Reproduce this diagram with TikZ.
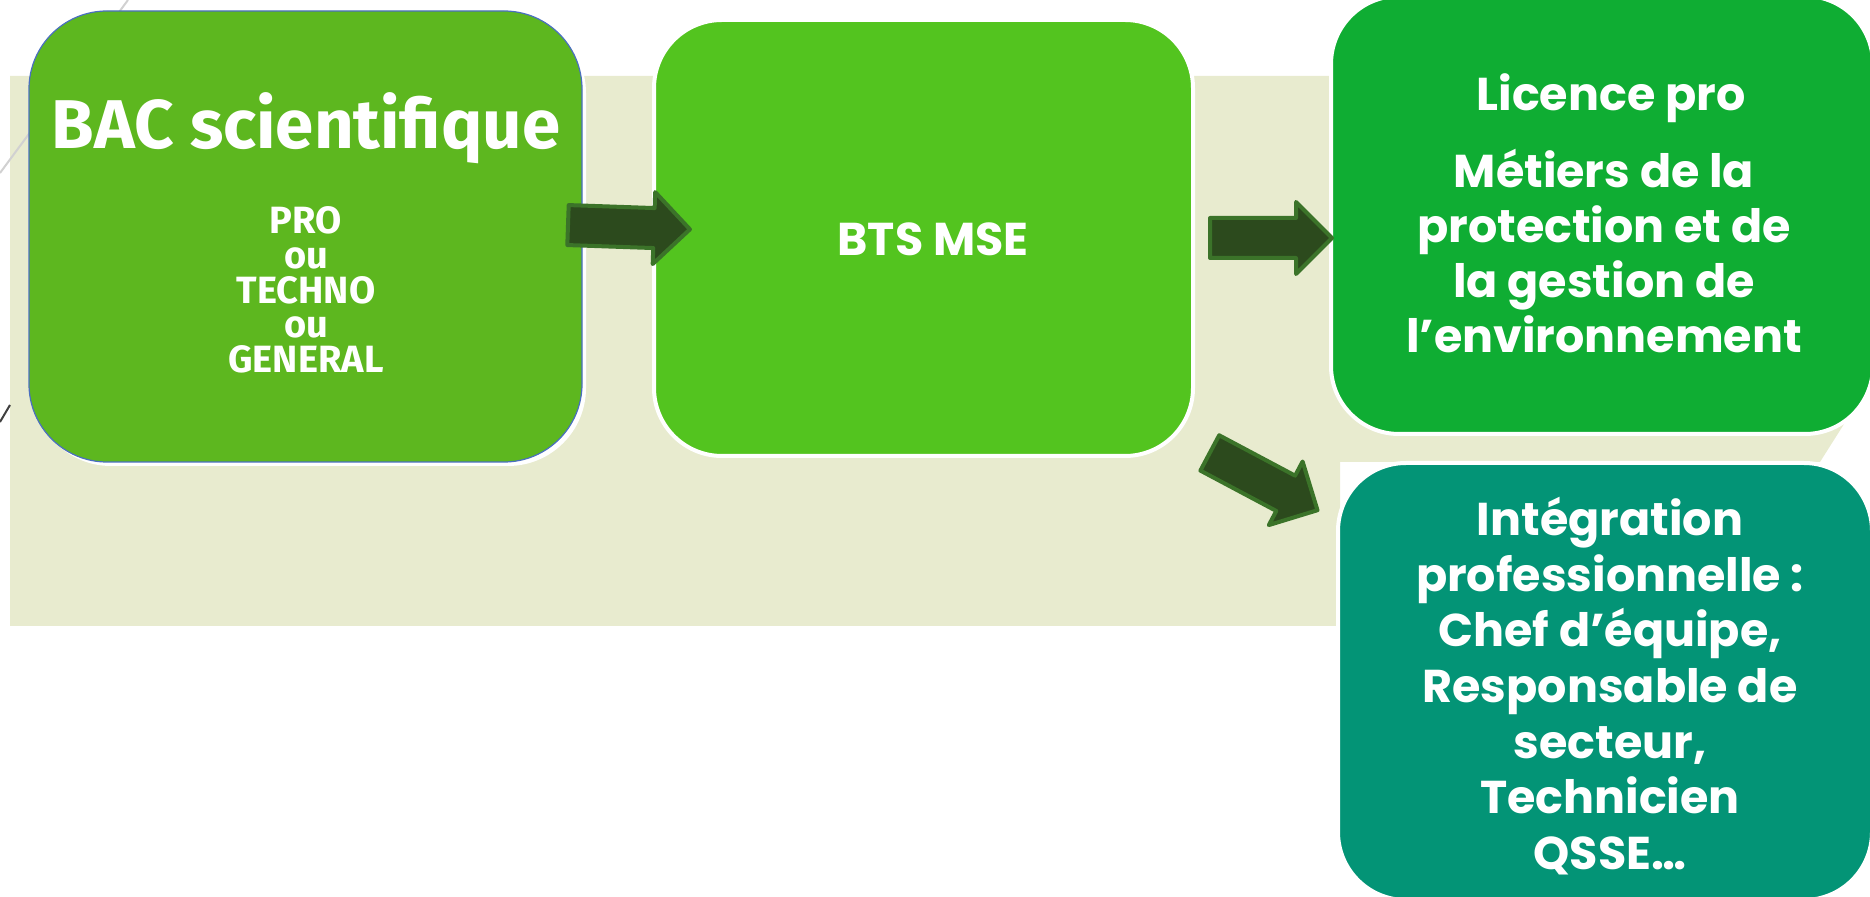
\documentclass[tikz,border=0pt]{standalone}
\usepackage{fontspec}
\setmainfont{Poppins}
\newfontfamily\gillfont{Fira Sans}
\usetikzlibrary{shapes.arrows,shadows}

\definecolor{bgbeige}{HTML}{E8EBCF}
\definecolor{bacgreen}{HTML}{5DB71F}
\definecolor{btsgreen}{HTML}{53C41F}
\definecolor{licgreen}{HTML}{0FAD33}
\definecolor{integteal}{HTML}{039476}
\definecolor{arrowfill}{HTML}{2C4A1D}
\definecolor{arrowedge}{HTML}{3B7329}
\definecolor{edgeblue}{HTML}{4A6FC0}

\tikzset{
  stepbox/.style={rounded corners=34pt, draw=white, line width=2pt, inner sep=0pt},
  boxtext/.style={text=white, font=\bfseries, align=center, inner sep=0pt},
  fatarrow/.style={single arrow, draw=arrowedge, fill=arrowfill, line width=2pt,
    line join=round, minimum height=61pt, inner xsep=0pt, inner ysep=9pt,
    single arrow head extend=8pt, anchor=tail}
}

\begin{document}
\begin{tikzpicture}[x=0.5pt, y=-0.5pt]
  \useasboundingbox (0,0) rectangle (1870,897);
  \clip (0,0) rectangle (1870,897);
  % background band
  \fill[bgbeige] (10,76) -- (1870,76) -- (1870,383) -- (1820,462) -- (1340,462)
    -- (1340,626) -- (10,626) -- cycle;
  \draw[black!18, line width=1pt] (128,0) -- (0,173);
  \draw[black!75, line width=1pt] (10,405) -- (0,422);

  % boxes
  \node[rounded corners=39pt, fill=bacgreen, draw=edgeblue, line width=0.6pt,
    minimum width=276.5pt, minimum height=225.5pt,
    drop shadow={fill=white, opacity=1, shadow xshift=2pt, shadow yshift=-2pt}]
    (bac) at (305.5,236.5) {};
  \node[stepbox, fill=btsgreen, minimum width=269.5pt, minimum height=218pt]
    (bts) at (923.5,238) {};
  \node[stepbox, fill=licgreen, minimum width=271pt, minimum height=219pt]
    (lic) at (1602,215) {};
  \node[stepbox, fill=integteal, minimum width=267pt, minimum height=218.5pt]
    (integ) at (1605,681.5) {};

  % texts
  \node[boxtext, font=\gillfont\bfseries\fontsize{34.5}{36}\selectfont]
    (bacTitle) at (306,128) {BAC scientifique};
  \node[boxtext, font=\gillfont\bfseries\fontsize{19}{17.3}\selectfont]
    (bacText) at (306,290) {PRO\\ou\\TECHNO\\ou\\GENERAL};
  \node[boxtext, font=\bfseries\fontsize{23}{27}\selectfont]
    (btsText) at (933,239) {BTS MSE};
  \node[boxtext, font=\bfseries\fontsize{23}{27.5}\selectfont]
    (licTitle) at (1611,98) {Licence pro};
  \node[boxtext, font=\bfseries\fontsize{23}{27.5}\selectfont]
    (licText) at (1604,251) {Métiers de la\\protection et de\\la gestion de\\l’environnement};
  \node[boxtext, font=\bfseries\fontsize{23}{27.8}\selectfont]
    (integText) at (1610,686) {Intégration\\professionnelle :\\Chef d’équipe,\\Responsable de\\secteur,\\Technicien\\QSSE…};

  % arrows
  \node[fatarrow, rotate=-2] (arrA) at (566,225) {};
  \node[fatarrow] (arrB) at (1208,238) {};
  \node[fatarrow, rotate=-28] (arrC) at (1208,452) {};
\end{tikzpicture}
\end{document}
